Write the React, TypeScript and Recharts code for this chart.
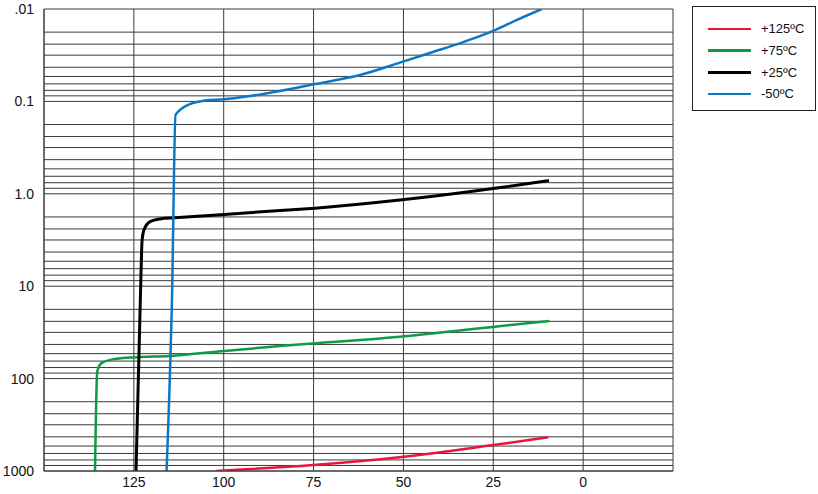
import React from "react";
import { LineChart, Line, XAxis, YAxis, CartesianGrid, Legend } from "recharts";

// temperature axis (reversed, 150 on the left)
const xTicks = [150, 125, 100, 75, 50, 25, 0, -25];
const xLabelled = [125, 100, 75, 50, 25, 0];

// y axis: log, .01 at top, 1000 at bottom
const decades = [0.01, 0.1, 1, 10, 100, 1000];
const decadeLabels = [".01", "0.1", "1.0", "10", "100", "1000"];
// minor grid lines inside each decade (as drawn on the original sheet)
const minorSteps = [1.78, 2.4, 3.16, 4.27, 5.37, 6.46, 7.59, 8.71];

// series: [temperature, value]
const hot125: [number, number][] = [
  [102.1, 1000], [75.1, 861], [49.8, 700], [25.0, 523], [9.7, 432],
];
const warm75: [number, number][] = [
  [135.8, 1000], [135.2, 84], [134.0, 68], [130.7, 61.8], [124.2, 58.8],
  [114.9, 56.9], [99.8, 50.2], [84.3, 44.4], [51.0, 35.2], [24.6, 27.4], [9.4, 23.8],
];
const room25: [number, number][] = [
  [124.4, 1000], [123.2, 14.1], [122.7, 3.16], [122.2, 2.47], [120.5, 2.0],
  [117.7, 1.87], [113.6, 1.82], [99.9, 1.67], [84.3, 1.52], [74.6, 1.43],
  [51.0, 1.17], [32.3, 0.957], [24.5, 0.871], [9.5, 0.72],
];
const cold50: [number, number][] = [
  [115.9, 1000], [114.4, 14.1], [113.4, 0.14], [109.4, 0.107], [105.2, 0.098],
  [99.9, 0.095], [92.7, 0.0875], [74.6, 0.0649], [62.1, 0.0518], [51.0, 0.0381],
  [41.8, 0.0292], [33.4, 0.0228], [24.5, 0.0169], [18.4, 0.0131], [11.5, 0.01],
];

const seriesNames = ["+125ºC", "+75ºC", "+25ºC", "-50ºC"];
const seriesColors = ["#e8163c", "#0f9a45", "#000000", "#0b77c5"];
const seriesData = [hot125, warm75, room25, cold50];
const seriesWidths = [2.5, 2.5, 3, 2.5];

const yTicks: number[] = [];
decades.forEach((d, i) => {
  yTicks.push(d);
  if (i < decades.length - 1) minorSteps.forEach((m) => yTicks.push(+(d * m).toPrecision(4)));
});

const FONT = "'Liberation Sans', Arial, sans-serif";

const LegendBox = () => (
  <div
    style={{
      width: 124,
      height: 105,
      border: "1.5px solid #222",
      background: "#fff",
      fontFamily: FONT,
      fontSize: 13,
      color: "#111",
      boxSizing: "border-box",
      paddingTop: 11,
    }}
  >
    {seriesNames.map((n, i) => (
      <div key={n} style={{ display: "flex", alignItems: "center", height: 21.7 }}>
        <div
          style={{
            marginLeft: 15,
            width: 43,
            height: seriesWidths[i],
            background: seriesColors[i],
          }}
        />
        <span style={{ marginLeft: 10 }}>{n}</span>
      </div>
    ))}
  </div>
);

export default function App() {
  return (
    <div style={{ position: "absolute", left: 0, top: 0, background: "#fff" }}>
      <LineChart width={818} height={494} margin={{ top: 9, right: 145, bottom: 0, left: 0 }}>
        <CartesianGrid stroke="#3a3a3a" strokeWidth={1} />
        <XAxis
          dataKey="t"
          type="number"
          domain={[-25, 150]}
          reversed
          allowDataOverflow
          ticks={xTicks}
          interval={0}
          height={23}
          tickSize={0}
          tickMargin={6}
          axisLine={{ stroke: "#3a3a3a" }}
          tickLine={false}
          tick={{ fill: "#111", fontSize: 14, fontFamily: FONT }}
          tickFormatter={(v: number) => (xLabelled.includes(v) ? String(v) : "")}
        />
        <YAxis
          dataKey="v"
          type="number"
          scale="log"
          domain={[0.01, 1000]}
          reversed
          allowDataOverflow
          ticks={yTicks}
          interval={0}
          width={44}
          tickSize={0}
          tickMargin={10}
          axisLine={{ stroke: "#3a3a3a" }}
          tickLine={false}
          tick={{ fill: "#111", fontSize: 14, fontFamily: FONT }}
          tickFormatter={(v: number) => {
            const k = decades.indexOf(v);
            return k >= 0 ? decadeLabels[k] : "";
          }}
        />
        <Legend
          layout="horizontal"
          verticalAlign="middle"
          align="center"
          content={() => <LegendBox />}
          wrapperStyle={{ left: 692, top: 6, width: 124, height: 105 }}
        />
        {seriesData.map((d, i) => (
          <Line
            key={seriesNames[i]}
            name={seriesNames[i]}
            data={d.map(([t, v]) => ({ t, v }))}
            dataKey="v"
            type="monotone"
            stroke={seriesColors[i]}
            strokeWidth={seriesWidths[i]}
            dot={false}
            isAnimationActive={false}
          />
        ))}
      </LineChart>
    </div>
  );
}
